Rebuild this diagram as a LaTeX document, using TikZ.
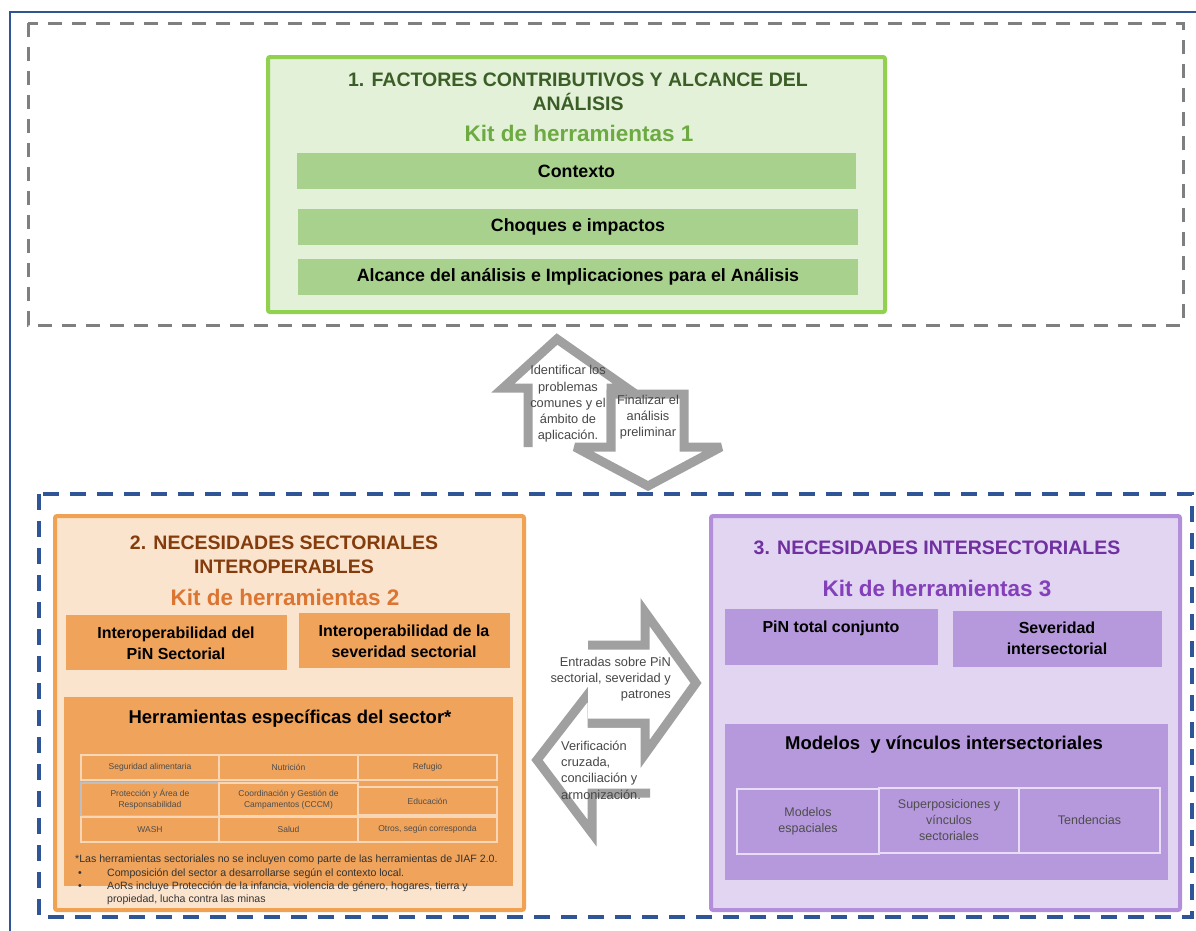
\documentclass[tikz,border=0pt]{standalone}
\usepackage{fontspec}
\setmainfont{Liberation Sans}
\definecolor{frameblue}{HTML}{2F5597}
\definecolor{dashgrey}{HTML}{7F7F7F}
\definecolor{greenborder}{HTML}{92D050}
\definecolor{greenfill}{HTML}{E3F1D9}
\definecolor{greenbar}{HTML}{A9D18E}
\definecolor{greentitle}{HTML}{3B5E27}
\definecolor{kitgreen}{HTML}{6DAB42}
\definecolor{orangeborder}{HTML}{F0A152}
\definecolor{orangefill}{HTML}{FBE4CE}
\definecolor{orangebox}{HTML}{EFA35B}
\definecolor{browntitle}{HTML}{843C0C}
\definecolor{kitorange}{HTML}{DC7531}
\definecolor{purpleborder}{HTML}{B28EDB}
\definecolor{purplefill}{HTML}{E1D5F1}
\definecolor{purplebox}{HTML}{B699DC}
\definecolor{purpletitle}{HTML}{7030A0}
\definecolor{kitpurple}{HTML}{843FBA}
\definecolor{arrowgrey}{HTML}{A0A0A0}
\definecolor{celltext}{HTML}{4D4D4D}
\definecolor{orangeline}{HTML}{F8D6B6}
\definecolor{purpleline}{HTML}{E8DDF5}
\newcommand\fsz[2]{\fontsize{#1}{#2}\selectfont}
\begin{document}
\begin{tikzpicture}[x=1pt,y=-1pt,
  panel/.style={inner sep=0pt, outer sep=0pt, line width=4pt, rounded corners=2pt},
  filledbox/.style={inner sep=0pt, outer sep=0pt},
  ttl/.style={align=center, inner sep=0pt, font=\bfseries\fsz{19.5}{24.5}},
  kit/.style={inner sep=0pt, font=\bfseries\fsz{22.5}{26}},
  bartext/.style={inner sep=0pt, font=\bfseries\fsz{17.8}{21}},
  subtext/.style={inner sep=0pt, align=center, font=\bfseries\fsz{16}{21}},
  bigtext/.style={inner sep=0pt, font=\bfseries\fsz{18.5}{22}},
  ocell/.style={draw=orangeline, line width=1.3pt, inner sep=0pt, align=center, text=celltext, font=\fsz{8.5}{11}},
  pcell/.style={draw=purpleline, line width=1.3pt, inner sep=0pt, align=center, text=celltext, font=\fsz{12.5}{16}},
  foot/.style={inner sep=0pt, anchor=base west, text=black!80, font=\fsz{10.6}{12}},
  arrowbody/.style={draw=arrowgrey, line width=9pt, line join=miter, miter limit=4},
  arrowfill/.style={fill=white},
  atext/.style={inner sep=0pt, text=black!72, font=\fsz{12.8}{16.3}}]
\useasboundingbox (0,0) rectangle (1196,930);
\begin{scope}
\clip (0,0) rectangle (1196,930);
\draw[frameblue, line width=2.5pt] (10,12) rectangle (1220,950);
\end{scope}
% grey dashed frame
\draw[dashgrey, line width=3pt, dash pattern=on 14pt off 10pt] (28,23) rectangle (1183,325);
% blue dashed frame
\draw[frameblue, line width=3.2pt, dash pattern=on 16pt off 11pt] (39,494) rectangle (1192,917);

% ---------- panel 1
\node[panel, draw=greenborder, fill=greenfill, minimum width=617pt, minimum height=255pt] (p1) at (576.5,184.5) {};
\node[ttl, text=greentitle] (t1) at (578,92) {1. FACTORES CONTRIBUTIVOS Y ALCANCE DEL\\ANÁLISIS};
\node[kit, text=kitgreen] (k1) at (579,133) {Kit de herramientas 1};
\node[filledbox, fill=greenbar, minimum width=559pt, minimum height=36pt] (c1) at (576.5,171) {};
\node[bartext] at (c1) {Contexto};
\node[filledbox, fill=greenbar, minimum width=560pt, minimum height=36pt] (c2) at (578,227) {};
\node[bartext] at (c2) {Choques e impactos};
\node[filledbox, fill=greenbar, minimum width=560pt, minimum height=36pt] (c3) at (578,277) {};
\node[bartext] at (c3) {Alcance del análisis e Implicaciones para el Análisis};

% ---------- arrows up/down
\fill[arrowfill] (528,447) -- (528,388) -- (503,388) -- (557,339) -- (627,388) -- (611,388) -- (611,447) -- cycle;
\draw[arrowbody] (528,447) -- (528,388) -- (503,388) -- (557,339) -- (627,388) -- (611,388) -- (611,447);
\draw[arrowbody, fill=white] (611,447) -- (611,394) -- (684,394) -- (684,447) -- (721,447) -- (648,486) -- (575,447) -- cycle;
\node[atext, align=center] (up) at (568,404) {Identificar los\\problemas\\comunes y el\\ámbito de\\aplicación.};
\node[atext, align=center] (down) at (648,417) {Finalizar el\\análisis\\preliminar};

% ---------- panel 2
\node[panel, draw=orangeborder, fill=orangefill, minimum width=469pt, minimum height=394pt] (p2) at (289.5,713) {};
\node[ttl, text=browntitle] (t2) at (284,555) {2. NECESIDADES SECTORIALES\\INTEROPERABLES};
\node[kit, text=kitorange] (k2) at (285,597) {Kit de herramientas 2};
\node[filledbox, fill=orangebox, minimum width=221pt, minimum height=55pt] (s21) at (176.5,642.5) {};
\node[subtext] at (176,643) {Interoperabilidad del\\PiN Sectorial};
\node[filledbox, fill=orangebox, minimum width=211pt, minimum height=55pt] (s22) at (404.5,640.5) {};
\node[subtext] at (404,641) {Interoperabilidad de la\\severidad sectorial};
\node[filledbox, fill=orangebox, minimum width=449pt, minimum height=189pt] (h2) at (288.5,791.5) {};
\node[bigtext] (h2t) at (290,719) {Herramientas específicas del sector*};
\node[ocell, minimum width=138pt, minimum height=25pt] (a11) at (150,767.5) {Seguridad alimentaria};
\node[ocell, minimum width=139pt, minimum height=25pt] (a12) at (288.5,767.5) {Nutrición};
\node[ocell, minimum width=139pt, minimum height=25pt] (a13) at (427.5,767.5) {Refugio};
\node[ocell, draw=black!25, minimum width=138pt, minimum height=33pt] (a21) at (150,799.5) {Protección y Área de\\Responsabilidad};
\node[ocell, minimum width=139pt, minimum height=33pt] (a22) at (288.5,799.5) {Coordinación y Gestión de\\Campamentos (CCCM)};
\node[ocell, minimum width=139pt, minimum height=28pt] (a23) at (427.5,801) {Educación};
\node[ocell, minimum width=138pt, minimum height=25pt] (a31) at (150,829.5) {WASH};
\node[ocell, minimum width=139pt, minimum height=25pt] (a32) at (288.5,829.5) {Salud};
\node[ocell, minimum width=139pt, minimum height=25pt] (a33) at (427.5,829.5) {Otros, según corresponda};
\node[foot] (f1) at (75,862) {*Las herramientas sectoriales no se incluyen como parte de las herramientas de JIAF 2.0.};
\node[foot] (b1) at (78,876) {•};
\node[foot] (f2) at (107,876) {Composición del sector a desarrollarse según el contexto local.};
\node[foot] (b2) at (78,889) {•};
\node[foot] (f3) at (107,889) {AoRs incluye Protección de la infancia, violencia de género, hogares, tierra y};
\node[foot] (f4) at (107,902) {propiedad, lucha contra las minas};

% ---------- panel 3
\node[panel, draw=purpleborder, fill=purplefill, minimum width=469pt, minimum height=394pt] (p3) at (945.5,713) {};
\node[ttl, text=purpletitle] (t3) at (937,548) {3. NECESIDADES INTERSECTORIALES};
\node[kit, text=kitpurple] (k3) at (937,588) {Kit de herramientas 3};
\node[filledbox, fill=purplebox, minimum width=213pt, minimum height=56pt] (s31) at (831.5,637) {};
\node[subtext] at (831,628) {PiN total conjunto};
\node[filledbox, fill=purplebox, minimum width=209pt, minimum height=56pt] (s32) at (1057.5,639) {};
\node[subtext] at (1057,638) {Severidad\\intersectorial};
\node[filledbox, fill=purplebox, minimum width=443pt, minimum height=156pt] (m3) at (946.5,802) {};
\node[bigtext] (m3t) at (944,745) {Modelos\ \ y vínculos intersectoriales};
\node[pcell, minimum width=142pt, minimum height=65pt] (q1) at (808,821.5) {Modelos\\espaciales};
\node[pcell, minimum width=140pt, minimum height=65pt] (q2) at (949,820.5) {Superposiciones y\\vínculos\\sectoriales};
\node[pcell, minimum width=141pt, minimum height=65pt] (q3) at (1089.5,820.5) {Tendencias};

% ---------- arrows left/right
\fill[arrowfill] (650,723) -- (592,723) -- (592,689) -- (537,760) -- (592,833) -- (592,793) -- (650,793) -- cycle;
\draw[arrowbody] (650,723) -- (592,723) -- (592,689) -- (537,760) -- (592,833) -- (592,793) -- (650,793);
\fill[arrowfill] (588,645) -- (645,645) -- (645,612) -- (696,683) -- (645,754) -- (645,723) -- (588,723) -- cycle;
\draw[arrowbody] (588,645) -- (645,645) -- (645,612) -- (696,683) -- (645,754) -- (645,723) -- (588,723);
\node[atext, align=right, anchor=east] (rt) at (671,679) {Entradas sobre PiN\\sectorial, severidad y\\patrones};
\node[atext, align=left, anchor=west] (lt) at (561,770) {Verificación\\cruzada,\\conciliación y\\armonización.};
\end{tikzpicture}
\end{document}
